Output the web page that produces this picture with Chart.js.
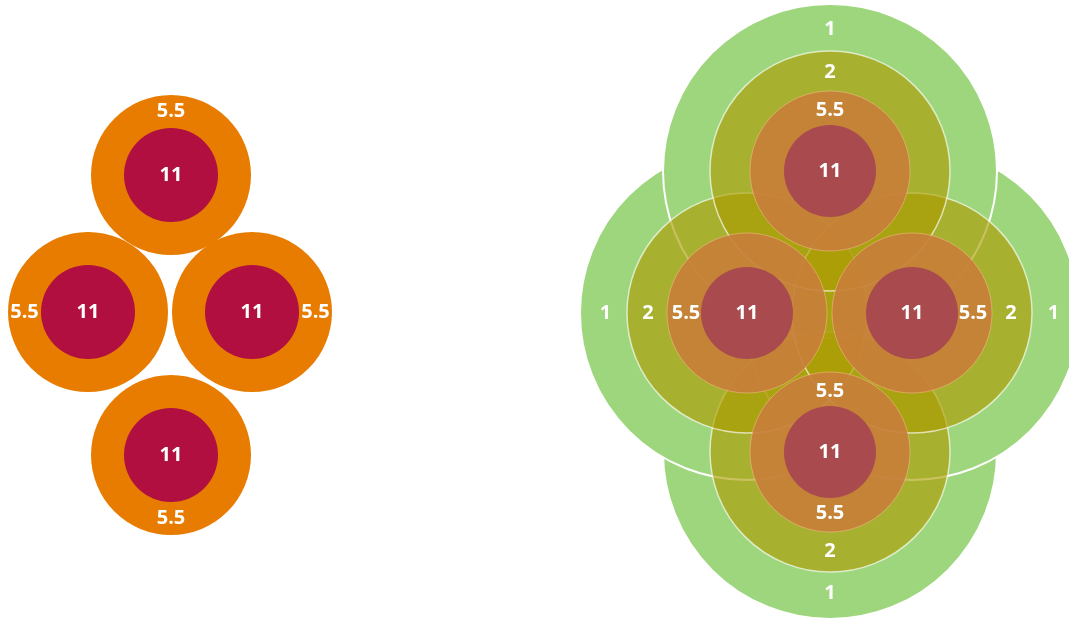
<!DOCTYPE html>
<html>
<head>
<meta charset="utf-8">
<script src="https://cdn.jsdelivr.net/npm/chart.js@4/dist/chart.umd.min.js"></script>
<style>
  html, body { margin: 0; padding: 0; background: #ffffff; }
  #wrap { width: 1069px; height: 620px; position: relative; }
</style>
</head>
<body>
<div id="wrap"><canvas id="c"></canvas></div>
<script>
// ---- data (order: bottom, left, right, top) ----
const positions = ['bottom', 'left', 'right', 'top'];
const leftGroupX = [171, 88, 252, 171];
const leftGroupY = [455, 312, 312, 175];
const rightGroupX = [830, 747, 912, 830];
const rightGroupY = [452, 313, 313, 171];
const ringValues = ['11', '5.5', '2', '1'];
const leftRingRadius = [47, 80];
const rightRingRadius = [46, 80, 120, 167];
// label directions per point
const leftLabelDirs = [['down'], ['left'], ['right'], ['up']];
const rightOrangeDirs = [['down', 'up'], ['left'], ['right'], ['up']];
const rightOuterDirs = [['down'], ['left'], ['right'], ['up']];

function pts(xs, ys, r) {
  return xs.map((x, i) => ({ x: x, y: ys[i], r: r }));
}

const datasets = [
  // left group
  { data: pts(leftGroupX, leftGroupY, leftRingRadius[1]), backgroundColor: '#e87c00', borderWidth: 0, order: 2,
    ringLabel: ringValues[1], labelDirs: leftLabelDirs, labelDist: (leftRingRadius[0] + leftRingRadius[1]) / 2 },
  { data: pts(leftGroupX, leftGroupY, leftRingRadius[0]), backgroundColor: '#b00f40', borderWidth: 0, order: 1,
    ringLabel: ringValues[0], labelDirs: null, labelDist: 0 },
  // right group
  { data: pts(rightGroupX, rightGroupY, rightRingRadius[3]), backgroundColor: '#9dd67c', borderColor: '#ffffff', borderWidth: 2, order: 6,
    ringLabel: ringValues[3], labelDirs: rightOuterDirs, labelDist: (rightRingRadius[2] + rightRingRadius[3]) / 2 - 2 },
  { data: pts(rightGroupX, rightGroupY, rightRingRadius[2]), backgroundColor: 'rgba(172,155,0,0.62)', borderColor: 'rgba(255,255,255,0.65)', borderWidth: 1.5, order: 5,
    ringLabel: ringValues[2], labelDirs: rightOuterDirs, labelDist: (rightRingRadius[1] + rightRingRadius[2]) / 2 - 1 },
  { data: pts(rightGroupX, rightGroupY, rightRingRadius[1]), backgroundColor: 'rgba(200,127,58,0.92)', borderColor: 'rgba(255,200,160,0.45)', borderWidth: 1, order: 4,
    ringLabel: ringValues[1], labelDirs: rightOrangeDirs, labelDist: (rightRingRadius[0] + rightRingRadius[1]) / 2 - 2 },
  { data: pts(rightGroupX, rightGroupY, rightRingRadius[0]), backgroundColor: 'rgba(168,72,80,0.98)', borderWidth: 0, order: 3,
    ringLabel: ringValues[0], labelDirs: null, labelDist: 0 }
];
datasets.forEach(d => { d.clip = false; d.hoverRadius = 0; d.hoverBorderWidth = d.borderWidth; });

const ringLabelPlugin = {
  id: 'ringLabels',
  afterDatasetsDraw(chart) {
    const ctx = chart.ctx;
    ctx.save();
    ctx.fillStyle = '#ffffff';
    ctx.font = 'bold 20px "Open Sans", "DejaVu Sans", sans-serif';
    ctx.textAlign = 'center';
    ctx.textBaseline = 'middle';
    chart.data.datasets.forEach((ds, i) => {
      const meta = chart.getDatasetMeta(i);
      meta.data.forEach((el, j) => {
        if (!ds.labelDirs) {
          ctx.fillText(ds.ringLabel, el.x, el.y);
          return;
        }
        ds.labelDirs[j].forEach(dir => {
          let x = el.x, y = el.y;
          if (dir === 'up') y -= ds.labelDist;
          if (dir === 'down') y += ds.labelDist;
          if (dir === 'left') x -= ds.labelDist;
          if (dir === 'right') x += ds.labelDist;
          ctx.fillText(ds.ringLabel, x, y);
        });
      });
    });
    ctx.restore();
  }
};

new Chart(document.getElementById('c'), {
  type: 'bubble',
  data: { datasets: datasets },
  options: {
    responsive: true,
    maintainAspectRatio: false,
    animation: false,
    events: [],
    layout: { padding: 0, autoPadding: false },
    plugins: { legend: { display: false }, tooltip: { enabled: false } },
    scales: {
      x: { type: 'linear', min: 0, max: 1069, display: false },
      y: { type: 'linear', min: 0, max: 620, reverse: true, display: false }
    }
  },
  plugins: [ringLabelPlugin]
});
</script>
</body>
</html>
